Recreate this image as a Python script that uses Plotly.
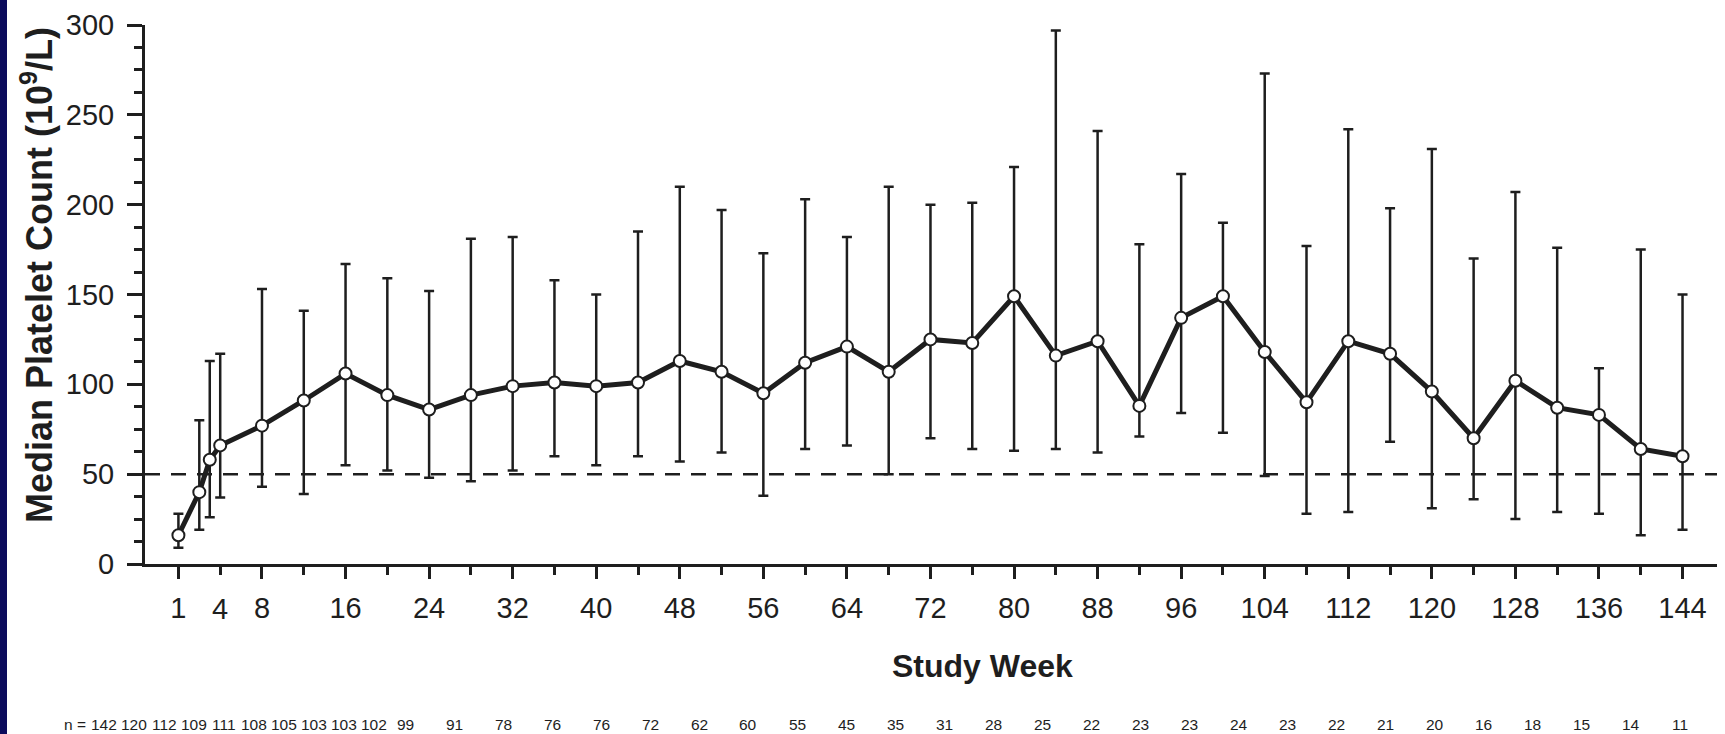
import plotly.graph_objects as go

# ---- data ----
week_labels = ["1", "2", "3", "4"] + [str(w) for w in range(8, 145, 4)]
week_pos = [0, 2, 3, 4] + list(range(8, 145, 4))  # week "1" is drawn at the origin tick
median = [16, 40, 58, 66, 77, 91, 106, 94, 86, 94, 99, 101, 99, 101,
          113, 107, 95, 112, 121, 107, 125, 123, 149, 116, 124, 88, 137,
          149, 118, 90, 124, 117, 96, 70, 102, 87, 83, 64, 60]
upper = [28, 80, 113, 117, 153, 141, 167, 159, 152, 181, 182, 158, 150, 185,
         210, 197, 173, 203, 182, 210, 200, 201, 221, 297, 241, 178, 217,
         190, 273, 177, 242, 198, 231, 170, 207, 176, 109, 175, 150]
lower = [9, 19, 26, 37, 43, 39, 55, 52, 48, 46, 52, 60, 55, 60,
         57, 62, 38, 64, 66, 50, 70, 64, 63, 64, 62, 71, 84,
         73, 49, 28, 29, 68, 31, 36, 25, 29, 28, 16, 19]
n_counts = [142, 120, 112, 109, 111, 108, 105, 103, 103, 102, 99, 91, 78, 76, 76,
            72, 62, 60, 55, 45, 35, 31, 28, 25, 22, 23, 23, 24, 23, 22, 21, 20,
            16, 18, 15, 14, 11]
x_tick_vals = [0] + list(range(8, 145, 8))
x_tick_text = ["1"] + [str(v) for v in range(8, 145, 8)]
threshold = 50

# ---- layout geometry (pixels) ----
W, H = 1725, 734
L, R, T, B = 145, 8, 25, 170
PW, PH = W - L - R, H - T - B
FONT = "Liberation Sans, Arial, sans-serif"
INK = "#1e1e1e"

def px_x(p):
    return (p - L) / PW

def px_y(p):
    return (H - B - p) / PH

err_plus = [u - m for u, m in zip(upper, median)]
err_minus = [m - l for m, l in zip(median, lower)]

fig = go.Figure()
fig.add_trace(go.Scatter(
    x=week_pos, y=median, mode="lines+markers",
    line=dict(color=INK, width=5),
    marker=dict(size=12, color="white", line=dict(color=INK, width=2)),
    error_y=dict(type="data", array=err_plus, arrayminus=err_minus,
                 color=INK, thickness=2.5, width=5),
    text=week_labels, hoverinfo="text+y", showlegend=False,
))

fig.add_shape(type="line", xref="paper", yref="y", x0=0, x1=1,
              y0=threshold, y1=threshold,
              line=dict(color=INK, width=2.5, dash="15px,11px"), layer="below")

# navy strip at left edge
fig.add_shape(type="rect", xref="paper", yref="paper",
              x0=px_x(0), x1=px_x(7), y0=px_y(H), y1=px_y(0),
              fillcolor="#0b0b5c", line=dict(width=0))

TICKSIZE = 29
annotations = []
# "4" label at the minor tick
annotations.append(dict(x=4, y=px_y(609), xref="x", yref="paper", text="4",
                        showarrow=False, font=dict(family=FONT, size=TICKSIZE, color=INK),
                        xanchor="center", yanchor="middle"))
# axis titles
annotations.append(dict(x=px_x(982), y=px_y(666), xref="paper", yref="paper",
                        text="<b>Study Week</b>", showarrow=False,
                        font=dict(family=FONT, size=32, color=INK),
                        xanchor="center", yanchor="middle"))
annotations.append(dict(x=px_x(37), y=px_y(275), xref="paper", yref="paper",
                        text="<b>Median Platelet Count (10<sup>9</sup>/L)</b>",
                        showarrow=False, textangle=-90,
                        font=dict(family=FONT, size=36, color=INK),
                        xanchor="center", yanchor="middle"))
# n row: 3-digit counts are packed tightly, 2-digit counts spread to week 144
NSIZE = 15.5
annotations.append(dict(x=px_x(88), y=px_y(724), xref="paper", yref="paper",
                        text="n =", showarrow=False,
                        font=dict(family=FONT, size=NSIZE, color=INK),
                        xanchor="right", yanchor="middle"))
first3, step3 = 104, 30
n_three = sum(1 for n in n_counts if n >= 100)
start2, end2 = 405, 1680
step2 = (end2 - start2) / (len(n_counts) - n_three - 1)
for i, n in enumerate(n_counts):
    xp = first3 + i * step3 if i < n_three else start2 + (i - n_three) * step2
    annotations.append(dict(x=px_x(xp), y=px_y(724), xref="paper", yref="paper",
                            text=str(n), showarrow=False,
                            font=dict(family=FONT, size=NSIZE, color=INK),
                            xanchor="center", yanchor="middle"))

fig.update_layout(
    width=W, height=H, margin=dict(l=L, r=R, t=T, b=B, pad=0),
    paper_bgcolor="white", plot_bgcolor="white",
    font=dict(family=FONT, color=INK),
    annotations=annotations,
    xaxis=dict(range=[-3.2, 147.3], tickvals=x_tick_vals, ticktext=x_tick_text,
               ticks="outside", ticklen=12, tickwidth=2.5, tickcolor=INK,
               showline=True, linecolor=INK, linewidth=3, showgrid=False,
               zeroline=False, tickfont=dict(family=FONT, size=TICKSIZE, color=INK),
               minor=dict(tickvals=[v for v in range(4, 145, 8)], ticks="outside",
                          ticklen=8, tickwidth=2.5, tickcolor=INK, showgrid=False),
               ticklabelstandoff=4),
    yaxis=dict(range=[0, 300], dtick=50, tick0=0, ticks="outside", ticklen=15,
               tickwidth=2.5, tickcolor=INK, showline=True, linecolor=INK,
               linewidth=3, showgrid=False, zeroline=False,
               tickfont=dict(family=FONT, size=TICKSIZE, color=INK),
               minor=dict(dtick=12.5, tick0=0, ticks="outside", ticklen=8,
                          tickwidth=2.5, tickcolor=INK, showgrid=False),
               ticklabelstandoff=7),
)

fig.write_html("out.html", config={"displayModeBar": False},
               post_script="document.body.style.margin='0';document.body.style.overflow='hidden';")
